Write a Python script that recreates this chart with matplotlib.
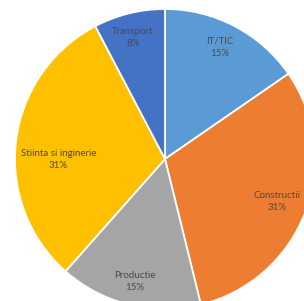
import matplotlib
matplotlib.use("Agg")
import matplotlib.pyplot as plt
import numpy as np

categories = ["IT/TIC", "Constructii", "Productie", "Stiinta si inginerie", "Transport"]
values = [2, 4, 2, 4, 1]
colors = ["#5B9BD5", "#ED7D31", "#A5A5A5", "#FFC000", "#4472C4"]

W, H = 304, 301
cx, cy, r = 165, 142, 150  # pixels from left / bottom

fig = plt.figure(figsize=(W / 100, H / 100), dpi=100)
ax = fig.add_axes([0, 0, 1, 1])
wedges, _ = ax.pie(values, colors=colors, startangle=90, counterclock=False,
                   radius=1, center=(0, 0),
                   wedgeprops=dict(edgecolor="white", linewidth=1.3))
ax.set_xlim(-cx / r, (W - cx) / r)
ax.set_ylim(-cy / r, (H - cy) / r)
ax.set_aspect("auto")
ax.axis("off")

total = sum(values)
# label placement (distance fraction, angle override) per slice
label_dist = [0.83, 0.80, 0.84, 0.71, 0.84]
angle_adj = [1.5, 0, 0, 7, 1]
for w, cat, v, d, da in zip(wedges, categories, values, label_dist, angle_adj):
    mid = np.deg2rad((w.theta1 + w.theta2) / 2 + da)
    x, y = d * np.cos(mid), d * np.sin(mid)
    ax.text(x, y, f"{cat}\n{v / total * 100:.0f}%", ha="center", va="center",
            fontsize=7, family=["Lato", "DejaVu Sans"], color="#4a4a4a",
            linespacing=1.4)

fig.savefig("out.png", dpi=100)
